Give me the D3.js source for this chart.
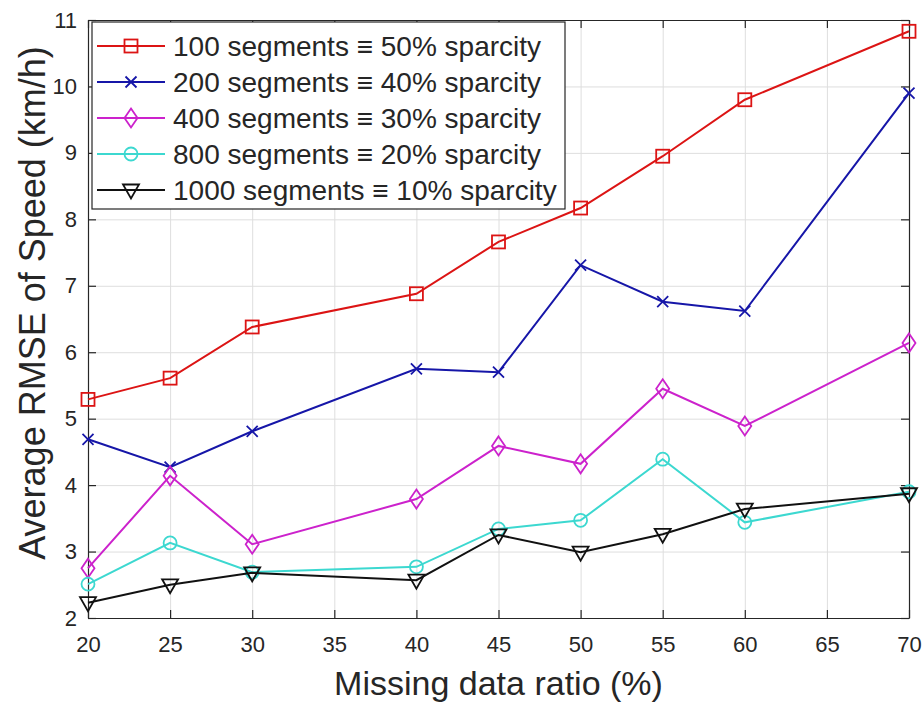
<!DOCTYPE html>
<html>
<head>
<meta charset="utf-8">
<script src="https://cdn.jsdelivr.net/npm/d3@7"></script>
<style>
  body { margin: 0; background: #fff; }
  svg text { font-family: "Liberation Sans", Arial, sans-serif; fill: #262626; }
</style>
</head>
<body>
<div id="graph1"></div>
<script>
// missing data ratio (%)
var ratios = [20, 25, 30, 40, 45, 50, 55, 60, 70];

// average RMSE (km/h) per number of segments
var seg100  = [5.29, 5.61, 6.38, 6.88, 7.66, 8.17, 8.95, 9.80, 10.83];
var seg200  = [4.69, 4.27, 4.81, 5.75, 5.70, 7.31, 6.76, 6.62, 9.90];
var seg400  = [2.75, 4.14, 3.11, 3.79, 4.59, 4.32, 5.45, 4.89, 6.14];
var seg800  = [2.51, 3.13, 2.69, 2.77, 3.34, 3.47, 4.39, 3.44, 3.90];
var seg1000 = [2.23, 2.50, 2.68, 2.57, 3.25, 2.99, 3.26, 3.64, 3.87];

var seriesNames = [
  "100 segments \u2261 50% sparcity",
  "200 segments \u2261 40% sparcity",
  "400 segments \u2261 30% sparcity",
  "800 segments \u2261 20% sparcity",
  "1000 segments \u2261 10% sparcity"
];

var xTicks = [20, 25, 30, 35, 40, 45, 50, 55, 60, 65, 70];
var yTicks = [2, 3, 4, 5, 6, 7, 8, 9, 10, 11];

var series = [
  { name: seriesNames[0], values: seg100,  color: "#dc1414", marker: "square" },
  { name: seriesNames[1], values: seg200,  color: "#1616a8", marker: "cross" },
  { name: seriesNames[2], values: seg400,  color: "#cc22cc", marker: "diamond" },
  { name: seriesNames[3], values: seg800,  color: "#3cd8d0", marker: "circle" },
  { name: seriesNames[4], values: seg1000, color: "#111111", marker: "triangle" }
];

var margin = {top: 20, right: 15, bottom: 87, left: 88};
var W = 924, H = 705;
var width = W - margin.left - margin.right,   // 821
    height = H - margin.top - margin.bottom;  // 598

var xScale = d3.scaleLinear().domain([20, 70]).range([0, width]);
var yScale = d3.scaleLinear().domain([2, 11]).range([height, 0]);

var svg = d3.select("#graph1").append("svg")
    .attr("width", W)
    .attr("height", H);

var g = svg.append("g")
    .attr("transform", "translate(" + margin.left + "," + margin.top + ")");

// grid
g.append("g")
    .attr("class", "grid")
    .attr("transform", "translate(0," + height + ")")
    .call(d3.axisBottom(xScale).tickValues(xTicks).tickSize(-height).tickFormat(""));
g.append("g")
    .attr("class", "grid")
    .call(d3.axisLeft(yScale).tickValues(yTicks).tickSize(-width).tickFormat(""));
g.selectAll(".grid .domain").remove();
g.selectAll(".grid line").attr("stroke", "#dedede").attr("stroke-width", 1);

// axes with inward ticks on all four sides
var xAxis = g.append("g")
    .attr("transform", "translate(0," + height + ")")
    .call(d3.axisBottom(xScale).tickValues(xTicks).tickSizeInner(-8).tickSizeOuter(0).tickPadding(18));
var xTop = g.append("g")
    .call(d3.axisTop(xScale).tickValues(xTicks).tickSizeInner(-8).tickSizeOuter(0).tickFormat(""));
var yAxis = g.append("g")
    .call(d3.axisLeft(yScale).tickValues(yTicks).tickSizeInner(-8).tickSizeOuter(0).tickPadding(11));
var yRight = g.append("g")
    .attr("transform", "translate(" + width + ",0)")
    .call(d3.axisRight(yScale).tickValues(yTicks).tickSizeInner(-8).tickSizeOuter(0).tickFormat(""));

[xAxis, xTop, yAxis, yRight].forEach(function(a) {
  a.selectAll("path.domain").attr("stroke", "#262626").attr("stroke-width", 1.2);
  a.selectAll("line").attr("stroke", "#262626").attr("stroke-width", 1.2);
  a.selectAll("text").style("font-size", "22px").attr("fill", "#262626");
});
xAxis.selectAll("text").attr("dy", "0.71em");

// axis titles
svg.append("text")
    .attr("x", margin.left + width / 2)
    .attr("y", 695)
    .attr("text-anchor", "middle")
    .style("font-size", "34px")
    .text("Missing data ratio (%)");

svg.append("text")
    .attr("transform", "translate(45,303) rotate(-90)")
    .attr("text-anchor", "middle")
    .style("font-size", "36px")
    .text("Average RMSE of Speed (km/h)");

// marker drawing
function drawMarker(sel, type, color) {
  var m;
  if (type === "square") {
    m = sel.append("rect").attr("x", -6.5).attr("y", -6.5).attr("width", 13).attr("height", 13);
  } else if (type === "cross") {
    m = sel.append("path").attr("d", "M-5.5,-5.5L5.5,5.5M-5.5,5.5L5.5,-5.5");
  } else if (type === "diamond") {
    m = sel.append("path").attr("d", "M0,-9.5L6.5,0L0,9.5L-6.5,0Z");
  } else if (type === "circle") {
    m = sel.append("circle").attr("r", 6.5);
  } else {
    m = sel.append("path").attr("d", "M-8,-5.5L8,-5.5L0,8.5Z");
  }
  m.attr("fill", "none").attr("stroke", color).attr("stroke-width", 1.8);
}

var line = d3.line()
    .x(function(d, i) { return xScale(ratios[i]); })
    .y(function(d) { return yScale(d); });

series.forEach(function(s) {
  g.append("path")
      .datum(s.values)
      .attr("fill", "none")
      .attr("stroke", s.color)
      .attr("stroke-width", 2)
      .attr("d", line);

  g.selectAll(".pt")
      .data(s.values)
      .enter().append("g")
      .attr("transform", function(d, i) {
        return "translate(" + xScale(ratios[i]) + "," + yScale(d) + ")";
      })
      .each(function() { drawMarker(d3.select(this), s.marker, s.color); });
});

// legend
var legend = svg.append("g").attr("transform", "translate(92,22)");
legend.append("rect")
    .attr("width", 473)
    .attr("height", 187)
    .attr("fill", "#fff")
    .attr("stroke", "#262626")
    .attr("stroke-width", 1.2);

series.forEach(function(s, i) {
  var row = legend.append("g").attr("transform", "translate(0," + (24 + i * 36) + ")");
  row.append("line")
      .attr("x1", 5).attr("x2", 73)
      .attr("stroke", s.color).attr("stroke-width", 2);
  drawMarker(row.append("g").attr("transform", "translate(39,0)"), s.marker, s.color);
  row.append("text")
      .attr("x", 81)
      .attr("dy", "0.35em")
      .style("font-size", "28px")
      .text(s.name);
});
</script>
</body>
</html>
